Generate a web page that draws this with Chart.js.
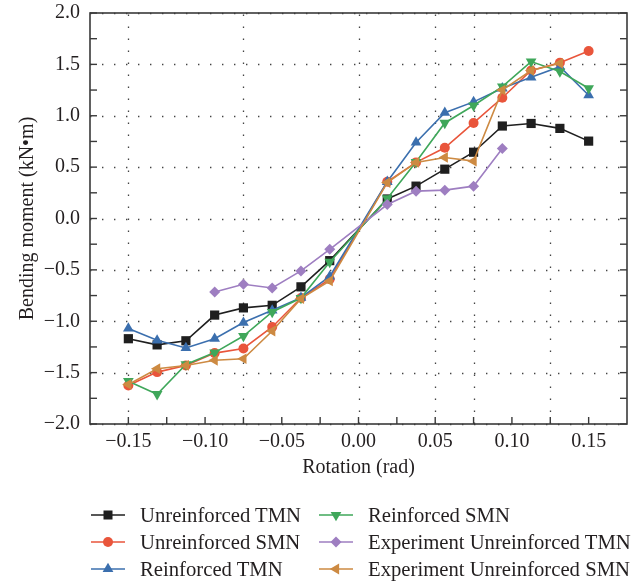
<!DOCTYPE html>
<html>
<head>
<meta charset="utf-8">
<script src="https://cdn.jsdelivr.net/npm/chart.js@4.4.1/dist/chart.umd.min.js"></script>
<style>
  body { margin: 0; background: #fff; }
  #wrap { position: relative; width: 637px; height: 584px; }
  #legend { position: absolute; left: 0; top: 0; width: 637px; height: 584px; pointer-events: none;
            font-family: "Liberation Serif", "DejaVu Serif", serif; font-size: 20.7px; color: #231f20; }
  .item { position: absolute; display: flex; align-items: center; white-space: nowrap; height: 24px; }
  .item svg { margin-right: 15px; }
</style>
</head>
<body>
<div id="wrap">
  <canvas id="chart" width="637" height="584"></canvas>
  <div id="legend"></div>
</div>
<script>
// ====== data ======
const rotation = [-0.15, -0.13125, -0.1125, -0.09375, -0.075, -0.05625, -0.0375, -0.01875,
                  0.01875, 0.0375, 0.05625, 0.075, 0.09375, 0.1125, 0.13125, 0.15];

const unreinforcedTMN = [-1.17, -1.23, -1.19, -0.94, -0.87, -0.845, -0.665, -0.41,
                         0.19, 0.315, 0.48, 0.645, 0.90, 0.925, 0.877, 0.753];
const unreinforcedSMN = [-1.625, -1.495, -1.43, -1.31, -1.265, -1.056, -0.774, -0.59,
                         0.357, 0.546, 0.688, 0.93, 1.175, 1.44, 1.516, 1.63];
const reinforcedTMN   = [-1.07, -1.186, -1.26, -1.17, -1.013, -0.894, -0.77, -0.563,
                         0.357, 0.74, 1.03, 1.135, 1.267, 1.374, 1.478, 1.20];
const reinforcedSMN   = [-1.583, -1.71, -1.42, -1.305, -1.144, -0.91, -0.774, -0.423,
                         0.195, 0.55, 0.93, 1.10, 1.283, 1.527, 1.43, 1.267];
const experimentTMN   = [null, null, null, -0.715, -0.64, -0.676, -0.51, -0.30,
                         0.136, 0.266, 0.276, 0.315, 0.682, null, null, null];
const experimentSMN   = [-1.615, -1.462, -1.43, -1.38, -1.365, -1.095, -0.78, -0.608,
                         0.35, 0.546, 0.594, 0.558, 1.25, 1.44, 1.51, null];

const seriesNames = ["Unreinforced TMN", "Unreinforced SMN", "Reinforced TMN",
                     "Reinforced SMN", "Experiment Unreinforced TMN", "Experiment Unreinforced SMN"];

const xTicks = [-0.15, -0.10, -0.05, 0.00, 0.05, 0.10, 0.15];
const yTicks = [-2.0, -1.5, -1.0, -0.5, 0.0, 0.5, 1.0, 1.5, 2.0];
const xGrid  = [-0.15, -0.075, 0, 0.05, 0.075, 0.125];
// =======================================

const FONT = '"Liberation Serif", "DejaVu Serif", serif';
const INK = "#231f20";

const styles = [
  { color: "#1f1f1f", shape: "rect",     radius: 6.5, rotation: 0 },
  { color: "#e9553b", shape: "circle",   radius: 5,   rotation: 0 },
  { color: "#3b6fae", shape: "triangle", radius: 6.2, rotation: 0 },
  { color: "#3fa75a", shape: "triangle", radius: 6.2, rotation: 180 },
  { color: "#9e7ec1", shape: "rectRot",  radius: 5.5, rotation: 0 },
  { color: "#cd8a42", shape: "triangle", radius: 6.2, rotation: 270 },
];

const allSeries = [unreinforcedTMN, unreinforcedSMN, reinforcedTMN, reinforcedSMN, experimentTMN, experimentSMN];

const datasets = allSeries.map((vals, i) => ({
  label: seriesNames[i],
  data: rotation.map((x, j) => ({ x: x, y: vals[j] })),
  borderColor: styles[i].color,
  backgroundColor: styles[i].color,
  borderWidth: 1.6,
  pointStyle: styles[i].shape,
  pointRadius: styles[i].radius,
  pointRotation: styles[i].rotation,
  pointBorderWidth: 0,
  pointBackgroundColor: styles[i].color,
  tension: 0,
  spanGaps: false,
  order: allSeries.length - i,
}));

function fmt(v, d) {
  const s = Math.abs(v).toFixed(d);
  return v < -1e-9 ? "\u2212" + s : s;
}

// frame, inward ticks and dotted grid
const frameTicks = {
  id: "frameTicks",
  beforeDatasetsDraw(chart) {
    const { ctx, chartArea: a, scales: { x, y } } = chart;
    ctx.save();
    ctx.strokeStyle = "#444";
    ctx.lineWidth = 1.3;
    ctx.setLineDash([1.4, 10.6]);
    xGrid.forEach(v => {
      const px = Math.round(x.getPixelForValue(v)) + 0.5;
      ctx.beginPath(); ctx.moveTo(px, a.bottom); ctx.lineTo(px, a.top); ctx.stroke();
    });
    yTicks.forEach(v => {
      const py = Math.round(y.getPixelForValue(v)) + 0.5;
      ctx.beginPath(); ctx.moveTo(a.left, py); ctx.lineTo(a.right, py); ctx.stroke();
    });
    ctx.restore();
  },
  afterDatasetsDraw(chart) {
    const { ctx, chartArea: a, scales: { x, y } } = chart;
    ctx.save();
    ctx.strokeStyle = "#3a3a3a";
    ctx.lineWidth = 1.6;
    ctx.strokeRect(a.left, a.top, a.right - a.left, a.bottom - a.top);
    const len = 7;
    ctx.lineWidth = 1.4;
    for (let k = -6; k <= 6; k++) {
      const px = x.getPixelForValue(k * 0.025);
      ctx.beginPath(); ctx.moveTo(px, a.bottom); ctx.lineTo(px, a.bottom - len); ctx.stroke();
    }
    for (let k = -8; k <= 8; k++) {
      const py = y.getPixelForValue(k * 0.25);
      ctx.beginPath(); ctx.moveTo(a.left, py); ctx.lineTo(a.left + len, py); ctx.stroke();
      ctx.beginPath(); ctx.moveTo(a.right, py); ctx.lineTo(a.right - len, py); ctx.stroke();
    }
    ctx.restore();
  }
};

const chart = new Chart(document.getElementById("chart"), {
  type: "line",
  data: { datasets },
  options: {
    responsive: false,
    animation: false,
    layout: { padding: { left: 0, right: 10, top: 13, bottom: 100 } },
    plugins: { legend: { display: false }, tooltip: { enabled: false } },
    scales: {
      x: {
        type: "linear", min: -0.175, max: 0.175,
        afterBuildTicks: s => { s.ticks = xTicks.map(v => ({ value: v })); },
        afterFit: s => { s.height = 60; s.paddingLeft = 0; s.paddingRight = 0; },
        grid: { display: false, drawTicks: false },
        border: { display: false },
        ticks: { color: INK, font: { family: FONT, size: 20 }, padding: 6, maxRotation: 0,
                 callback: v => fmt(v, 2) },
        title: { display: true, text: "Rotation (rad)", color: INK,
                 font: { family: FONT, size: 20 }, padding: { top: 0, bottom: 4 } }
      },
      y: {
        type: "linear", min: -2, max: 2,
        afterBuildTicks: s => { s.ticks = yTicks.map(v => ({ value: v })); },
        afterFit: s => { s.width = 90; s.paddingTop = 0; s.paddingBottom = 0; },
        grid: { display: false, drawTicks: false },
        border: { display: false },
        ticks: { color: INK, font: { family: FONT, size: 20 }, padding: 10,
                 callback: v => fmt(v, 1) },
        title: { display: true, text: "Bending moment (kN\u2022m)", color: INK,
                 font: { family: FONT, size: 20 }, padding: { top: 16, bottom: 0 } }
      }
    }
  },
  plugins: [frameTicks]
});

// two-column legend like the original
function markerSvg(st) {
  const c = st.color, cx = 17, cy = 8;
  let m = "";
  if (st.shape === "rect") m = `<rect x="${cx - 4.5}" y="${cy - 4.5}" width="9" height="9" fill="${c}"/>`;
  else if (st.shape === "circle") m = `<circle cx="${cx}" cy="${cy}" r="5" fill="${c}"/>`;
  else if (st.shape === "rectRot") m = `<polygon points="${cx},${cy - 5.5} ${cx + 5.5},${cy} ${cx},${cy + 5.5} ${cx - 5.5},${cy}" fill="${c}"/>`;
  else m = `<polygon points="${cx},${cy - 6.2} ${cx + 5.4},${cy + 3.1} ${cx - 5.4},${cy + 3.1}" fill="${c}" transform="rotate(${st.rotation} ${cx} ${cy})"/>`;
  return `<svg width="34" height="16" viewBox="0 0 34 16"><line x1="0" y1="${cy}" x2="34" y2="${cy}" stroke="${c}" stroke-width="1.5"/>${m}</svg>`;
}

const legend = document.getElementById("legend");
const colX = [91, 319];
const rowY = [503, 530, 557];
seriesNames.forEach((name, i) => {
  const div = document.createElement("div");
  div.className = "item";
  div.style.left = colX[Math.floor(i / 3)] + "px";
  div.style.top = rowY[i % 3] + "px";
  div.innerHTML = markerSvg(styles[i]) + `<span>${name}</span>`;
  legend.appendChild(div);
});
</script>
</body>
</html>
